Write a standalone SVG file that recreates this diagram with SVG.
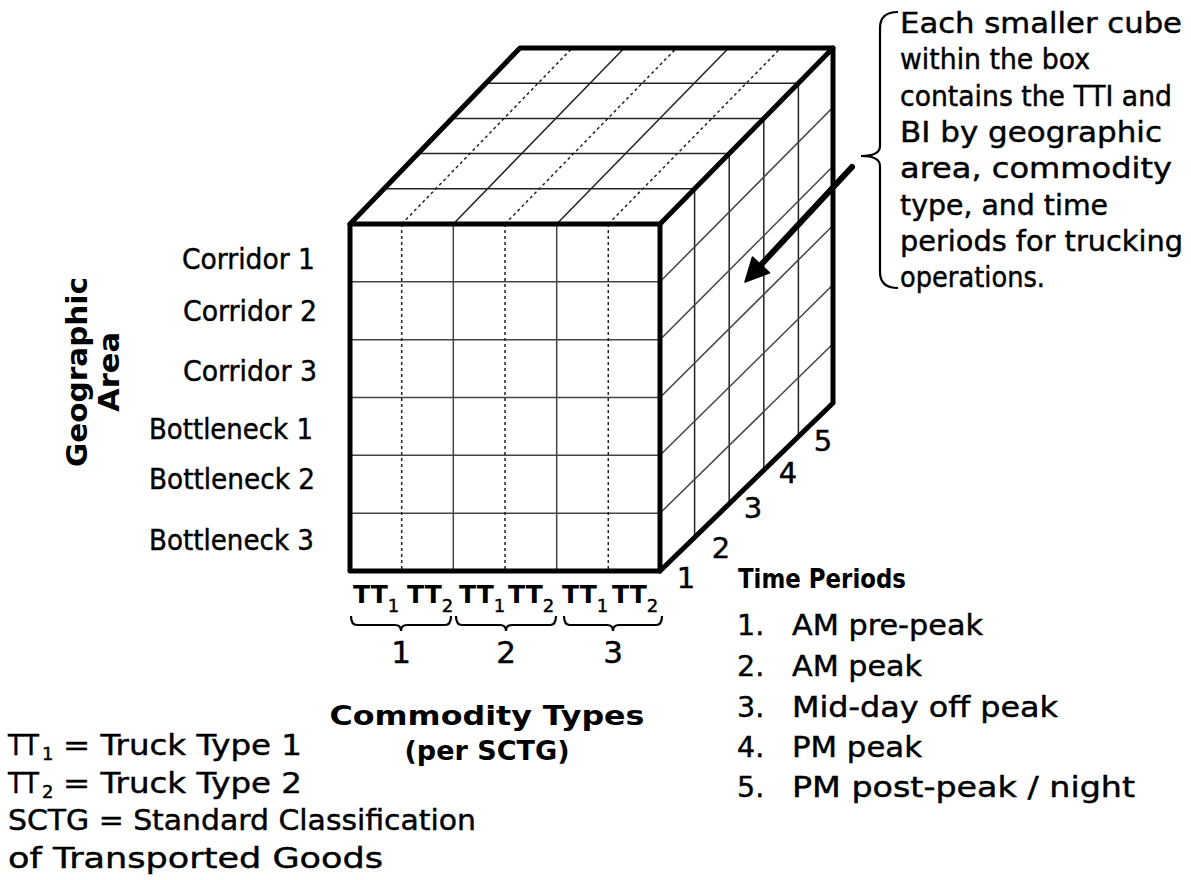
<svg xmlns="http://www.w3.org/2000/svg" width="1191" height="880" viewBox="0 0 1191 880">
<style>
text{font-family:"DejaVu Sans","Liberation Sans",sans-serif;fill:#000}
.r{stroke:#000;stroke-width:0.45}
.lbl{font-size:28.5px}
.co{font-size:28px}
.b{font-weight:bold}
.sub{font-weight:normal;font-size:18px;stroke:#000;stroke-width:0.45}
.thick{stroke:#000;stroke-width:5;fill:none;stroke-linejoin:round;stroke-linecap:round}
.thin{stroke:#222;stroke-width:1.5;fill:none}
.dot{stroke:#222;stroke-width:1.5;fill:none;stroke-dasharray:3 3}
.gray{stroke:#444;stroke-width:1.5;fill:none}
.br{stroke:#000;stroke-width:2.2;fill:none}
</style>
<rect width="1191" height="880" fill="#fff"/>

<g id="cube">
  <g id="top-face">
    <polygon points="350,224 520,48 833,48 660,224" fill="#fff"/>
    <line class="thin" x1="384" y1="188.8" x2="694.6" y2="188.8"/>
    <line class="thin" x1="418" y1="153.6" x2="729.2" y2="153.6"/>
    <line class="thin" x1="452" y1="118.4" x2="763.8" y2="118.4"/>
    <line class="thin" x1="486" y1="83.2" x2="798.4" y2="83.2"/>
    <line class="dot" x1="401.7" y1="224" x2="572.2" y2="48"/>
    <line class="thin" x1="453.3" y1="224" x2="624.3" y2="48"/>
    <line class="dot" x1="505" y1="224" x2="676.5" y2="48"/>
    <line class="thin" x1="556.7" y1="224" x2="728.7" y2="48"/>
    <line class="dot" x1="608.3" y1="224" x2="780.8" y2="48"/>
  </g>
  <g id="right-face">
    <polygon points="660,224 833,48 833,403 660,571" fill="#fff"/>
    <line class="thin" x1="694.6" y1="188.8" x2="694.6" y2="537.4"/>
    <line class="thin" x1="729.2" y1="153.6" x2="729.2" y2="503.8"/>
    <line class="thin" x1="763.8" y1="118.4" x2="763.8" y2="470.2"/>
    <line class="thin" x1="798.4" y1="83.2" x2="798.4" y2="436.6"/>
    <line class="gray" x1="660" y1="281.8" x2="833" y2="107.2"/>
    <line class="gray" x1="660" y1="339.7" x2="833" y2="166.3"/>
    <line class="gray" x1="660" y1="397.5" x2="833" y2="225.5"/>
    <line class="gray" x1="660" y1="455.3" x2="833" y2="284.7"/>
    <line class="gray" x1="660" y1="513.2" x2="833" y2="343.8"/>
  </g>
  <g id="front-face">
    <rect x="350" y="224" width="310" height="347" fill="#fff"/>
    <line class="gray" x1="350" y1="281.8" x2="660" y2="281.8"/>
    <line class="gray" x1="350" y1="339.7" x2="660" y2="339.7"/>
    <line class="gray" x1="350" y1="397.5" x2="660" y2="397.5"/>
    <line class="gray" x1="350" y1="455.3" x2="660" y2="455.3"/>
    <line class="gray" x1="350" y1="513.2" x2="660" y2="513.2"/>
    <line class="dot" x1="401.7" y1="224" x2="401.7" y2="571"/>
    <line class="gray" x1="453.3" y1="224" x2="453.3" y2="571"/>
    <line class="dot" x1="505" y1="224" x2="505" y2="571"/>
    <line class="gray" x1="556.7" y1="224" x2="556.7" y2="571"/>
    <line class="dot" x1="608.3" y1="224" x2="608.3" y2="571"/>
  </g>
  <g id="outline">
    <rect class="thick" x="350" y="224" width="310" height="347"/>
    <polyline class="thick" points="350,224 520,48 833,48 660,224"/>
    <polyline class="thick" points="833,48 833,403 660,571"/>
  </g>
</g>

<g id="geo-labels" class="lbl r">
  <text x="182" y="269" textLength="133" lengthAdjust="spacingAndGlyphs">Corridor 1</text>
  <text x="183" y="321" textLength="134" lengthAdjust="spacingAndGlyphs">Corridor 2</text>
  <text x="183" y="381" textLength="134" lengthAdjust="spacingAndGlyphs">Corridor 3</text>
  <text x="149" y="439" textLength="164" lengthAdjust="spacingAndGlyphs">Bottleneck 1</text>
  <text x="149" y="489" textLength="166" lengthAdjust="spacingAndGlyphs">Bottleneck 2</text>
  <text x="149" y="550" textLength="165" lengthAdjust="spacingAndGlyphs">Bottleneck 3</text>
</g>

<g id="geo-title" class="b" font-size="29">
  <text transform="translate(87,372) rotate(-90)" text-anchor="middle" textLength="190" lengthAdjust="spacingAndGlyphs">Geographic</text>
  <text transform="translate(119,372) rotate(-90)" text-anchor="middle" textLength="80" lengthAdjust="spacingAndGlyphs">Area</text>
</g>

<g id="truck-types" class="b" font-size="25">
  <text x="353" y="603">TT<tspan class="sub" dy="9">1</tspan></text>
  <text x="407" y="603">TT<tspan class="sub" dy="9">2</tspan></text>
  <text x="459" y="603">TT<tspan class="sub" dy="9">1</tspan></text>
  <text x="508" y="603">TT<tspan class="sub" dy="9">2</tspan></text>
  <text x="562" y="603">TT<tspan class="sub" dy="9">1</tspan></text>
  <text x="612" y="603">TT<tspan class="sub" dy="9">2</tspan></text>
</g>

<g id="commodity-braces">
  <path class="br" d="M351,616 Q351,625 357,625 L395,625 Q401,625 401,631 Q401,625 407,625 L445,625 Q451,625 451,616"/>
  <path class="br" d="M456,616 Q456,625 462,625 L500,625 Q506,625 506,631 Q506,625 512,625 L550,625 Q556,625 556,616"/>
  <path class="br" d="M564,616 Q564,625 570,625 L607,625 Q613,625 613,631 Q613,625 619,625 L656,625 Q662,625 662,616"/>
  <g font-size="31" text-anchor="middle" class="r">
    <text x="401" y="663">1</text>
    <text x="506" y="663">2</text>
    <text x="613" y="663">3</text>
  </g>
</g>

<g id="commodity-title" class="b" font-size="27" text-anchor="middle">
  <text x="487" y="725" textLength="315" lengthAdjust="spacingAndGlyphs">Commodity Types</text>
  <text x="487" y="760" textLength="165" lengthAdjust="spacingAndGlyphs">(per SCTG)</text>
</g>

<g id="time-axis" font-size="29" text-anchor="middle" class="r">
  <text x="686" y="588">1</text>
  <text x="721" y="558">2</text>
  <text x="753" y="518">3</text>
  <text x="788" y="483">4</text>
  <text x="823" y="451">5</text>
</g>

<g id="time-periods">
  <text x="738" y="588" class="b" font-size="27" textLength="168" lengthAdjust="spacingAndGlyphs">Time Periods</text>
  <g font-size="28.5" class="r">
    <text x="737" y="635">1.</text>
    <text x="737" y="676">2.</text>
    <text x="737" y="717">3.</text>
    <text x="737" y="757">4.</text>
    <text x="737" y="797">5.</text>
    <text x="792" y="635" textLength="191" lengthAdjust="spacingAndGlyphs">AM pre-peak</text>
    <text x="792" y="676" textLength="130" lengthAdjust="spacingAndGlyphs">AM peak</text>
    <text x="792" y="717" textLength="266" lengthAdjust="spacingAndGlyphs">Mid-day off peak</text>
    <text x="792" y="757" textLength="130" lengthAdjust="spacingAndGlyphs">PM peak</text>
    <text x="792" y="797" textLength="343" lengthAdjust="spacingAndGlyphs">PM post-peak / night</text>
  </g>
</g>

<g id="legend" font-size="29" class="r">
  <text x="8" y="755" textLength="31" lengthAdjust="spacingAndGlyphs">TT</text>
  <text x="42" y="760" font-size="18">1</text>
  <text x="63" y="755" textLength="239" lengthAdjust="spacingAndGlyphs">= Truck Type 1</text>
  <text x="8" y="793" textLength="31" lengthAdjust="spacingAndGlyphs">TT</text>
  <text x="42" y="798" font-size="18">2</text>
  <text x="63" y="793" textLength="239" lengthAdjust="spacingAndGlyphs">= Truck Type 2</text>
  <text x="8" y="830" font-size="28.5" textLength="468" lengthAdjust="spacingAndGlyphs">SCTG = Standard Classification</text>
  <text x="8" y="868" font-size="28.5" textLength="375" lengthAdjust="spacingAndGlyphs">of Transported Goods</text>
</g>

<g id="callout">
  <path class="br" d="M898,12 Q880,12 880,28 L880,146 Q880,156 861,156 Q880,156 880,166 L880,272 Q880,288 898,288"/>
  <g class="co r">
    <text x="900" y="33" textLength="282" lengthAdjust="spacingAndGlyphs">Each smaller cube</text>
    <text x="900" y="69" textLength="190" lengthAdjust="spacingAndGlyphs">within the box</text>
    <text x="900" y="106" textLength="272" lengthAdjust="spacingAndGlyphs">contains the TTI and</text>
    <text x="900" y="142" textLength="262" lengthAdjust="spacingAndGlyphs">BI by geographic</text>
    <text x="900" y="178" textLength="272" lengthAdjust="spacingAndGlyphs">area, commodity</text>
    <text x="900" y="215" textLength="208" lengthAdjust="spacingAndGlyphs">type, and time</text>
    <text x="900" y="251" textLength="283" lengthAdjust="spacingAndGlyphs">periods for trucking</text>
    <text x="900" y="287" textLength="145" lengthAdjust="spacingAndGlyphs">operations.</text>
  </g>
</g>

<g id="connectors">
  <line x1="852" y1="167" x2="758" y2="268" stroke="#000" stroke-width="6" stroke-linecap="round"/>
  <polygon points="745,282 752.5,257 769.5,272.8" fill="#000" stroke="#000" stroke-width="1.5" stroke-linejoin="round"/>
</g>
</svg>
